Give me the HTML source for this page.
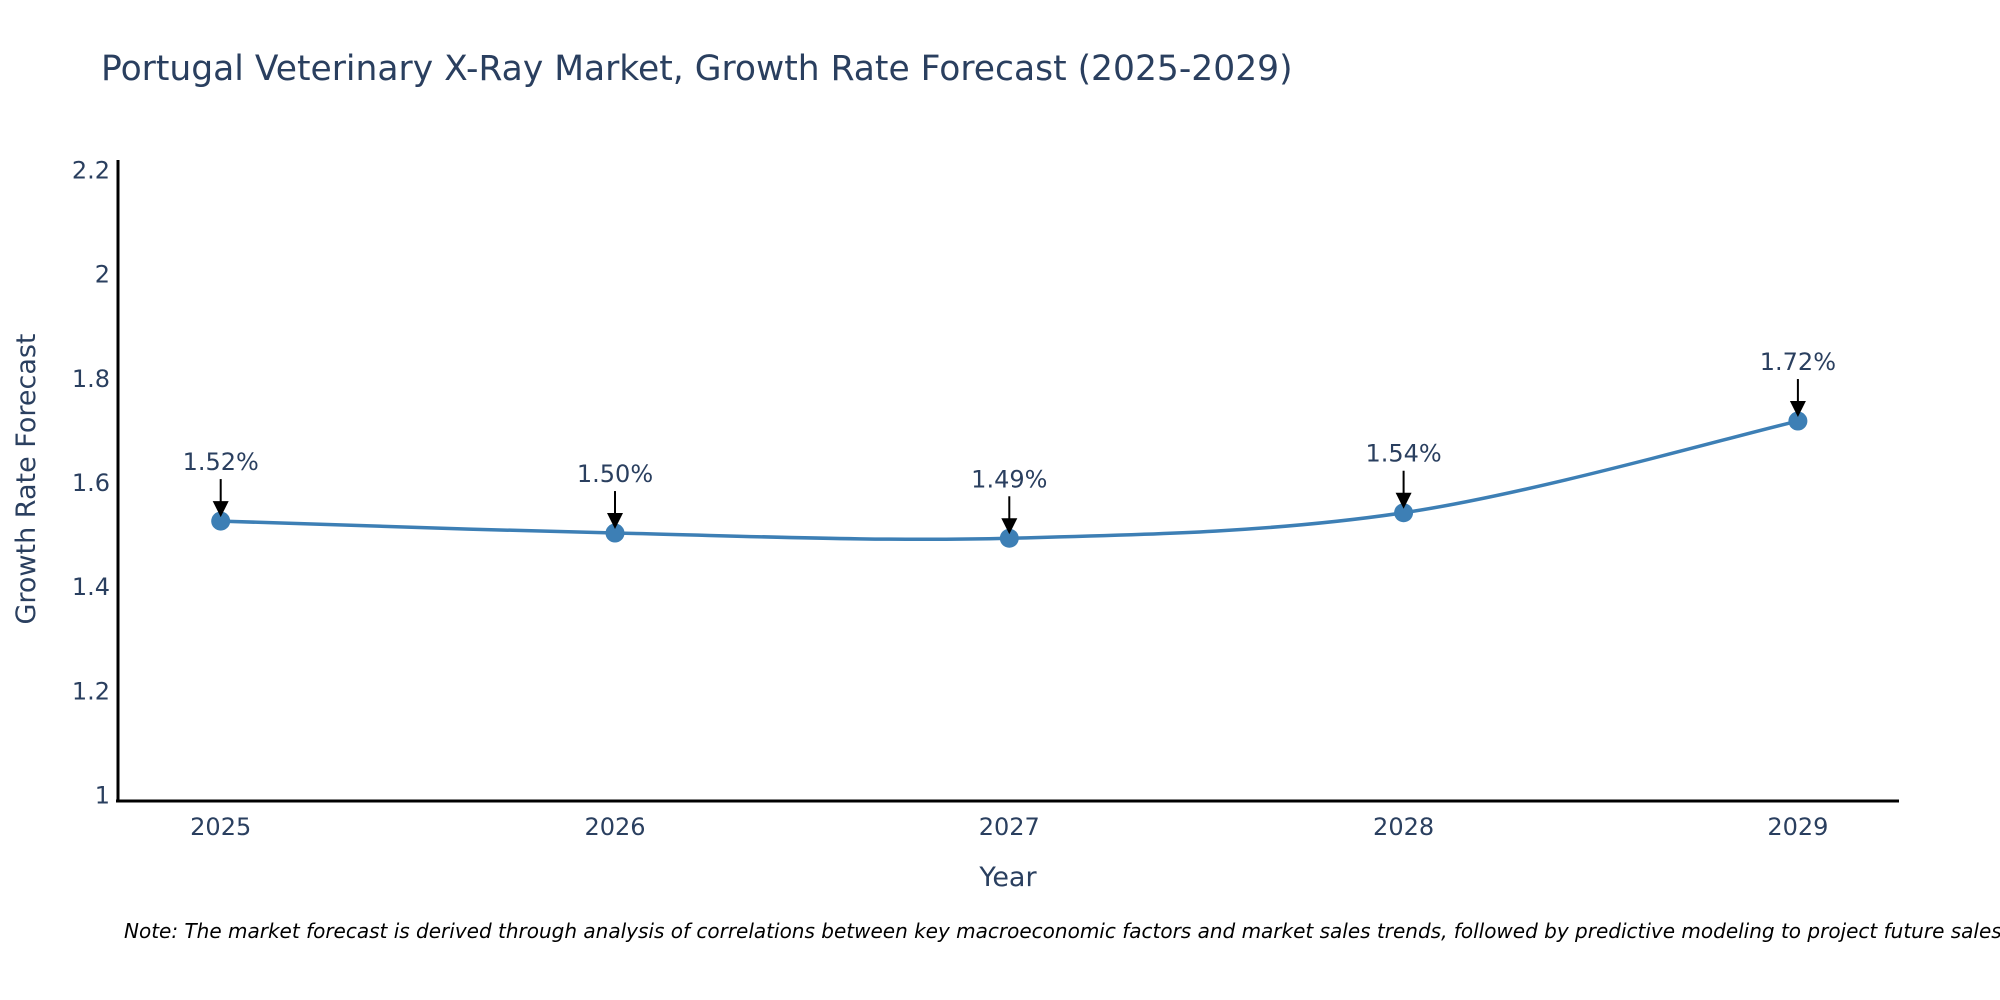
<!DOCTYPE html>
<html><head><meta charset="utf-8"><style>
body{margin:0;background:#fff;width:2000px;height:1000px;overflow:hidden}
svg{display:block;font-family:"DejaVu Sans","Liberation Sans",sans-serif}
</style></head><body>
<svg id="chart" width="2000" height="1000">
<text x="101" y="80" font-size="34.5" fill="#2a3f5f">Portugal Veterinary X-Ray Market, Growth Rate Forecast (2025-2029)</text>
<g id="yticks"></g>
<g id="xticks"></g>
<line x1="118" y1="160" x2="118" y2="802" stroke="#000" stroke-width="3"/>
<line x1="116" y1="801" x2="1899" y2="801" stroke="#000" stroke-width="3"/>
<text x="1008" y="886" font-size="27" fill="#2a3f5f" text-anchor="middle">Year</text>
<text transform="translate(35,479) rotate(-90)" font-size="27" fill="#2a3f5f" text-anchor="middle">Growth Rate Forecast</text>
<g id="series"></g>
<g id="annos"></g>
<text x="124" y="938" font-size="20" font-style="italic" fill="#000">Note: The market forecast is derived through analysis of correlations between key macroeconomic factors and market sales trends, followed by predictive modeling to project future sales.</text>
</svg>
<script>
const years = [2025, 2026, 2027, 2028, 2029];
const growth = [1.525, 1.502, 1.492, 1.541, 1.717];
const labels = ["1.52%", "1.50%", "1.49%", "1.54%", "1.72%"];
const yTicks = [1, 1.2, 1.4, 1.6, 1.8, 2, 2.2];
const yTickLabels = ["1", "1.2", "1.4", "1.6", "1.8", "2", "2.2"];

const NS = "http://www.w3.org/2000/svg";
function xs(v){return 220.7 + (v - 2025) * 394.3;}
function ys(v){return 794.6 - (v - 1) * 521;}
function mk(tag, attrs, parent){const e=document.createElementNS(NS,tag);for(const k in attrs)e.setAttribute(k,attrs[k]);parent.appendChild(e);return e;}

const yg=document.getElementById('yticks');
yTicks.forEach((t,i)=>{
  const e=mk('text',{x:110,y:ys(t)+9,'font-size':24,fill:'#2a3f5f','text-anchor':'end'},yg);
  
  
  e.textContent=yTickLabels[i];
});
const xg=document.getElementById('xticks');
years.forEach(y=>{
  const e=mk('text',{x:xs(y),y:835,'font-size':24,fill:'#2a3f5f','text-anchor':'middle'},xg);
  
  
  e.textContent=String(y);
});

const pts=years.map((y,i)=>[xs(y),ys(growth[i])]);
let d='M'+pts[0][0]+','+pts[0][1];
for(let i=0;i<pts.length-1;i++){
  const p0=pts[Math.max(i-1,0)],p1=pts[i],p2=pts[i+1],p3=pts[Math.min(i+2,pts.length-1)];
  const t=1/6;
  d+=' C'+(p1[0]+(p2[0]-p0[0])*t)+','+(p1[1]+(p2[1]-p0[1])*t)+' '+(p2[0]-(p3[0]-p1[0])*t)+','+(p2[1]-(p3[1]-p1[1])*t)+' '+p2[0]+','+p2[1];
}
const sg=document.getElementById('series');
const line=mk('path',{d:d,fill:'none',stroke:'#3d7fb5','stroke-width':3.5},sg);


pts.forEach(p=>{
  const c=mk('circle',{cx:p[0],cy:p[1],r:9.5,fill:'#3d7fb5'},sg);
  
  
});

const ag=document.getElementById('annos');
pts.forEach((p,i)=>{
  const l=mk('line',{x1:p[0],y1:p[1]-42,x2:p[0],y2:p[1]-14,stroke:'#000','stroke-width':2},ag);
  
  
  const h=mk('polygon',{points:(p[0]-8)+','+(p[1]-20)+' '+(p[0]+8)+','+(p[1]-20)+' '+p[0]+','+(p[1]-4),fill:'#000'},ag);
  
  
  const t=mk('text',{x:p[0],y:p[1]-51,'font-size':24,fill:'#2a3f5f','text-anchor':'middle'},ag);
  
  
  t.textContent=labels[i];
});
</script>
</body></html>
